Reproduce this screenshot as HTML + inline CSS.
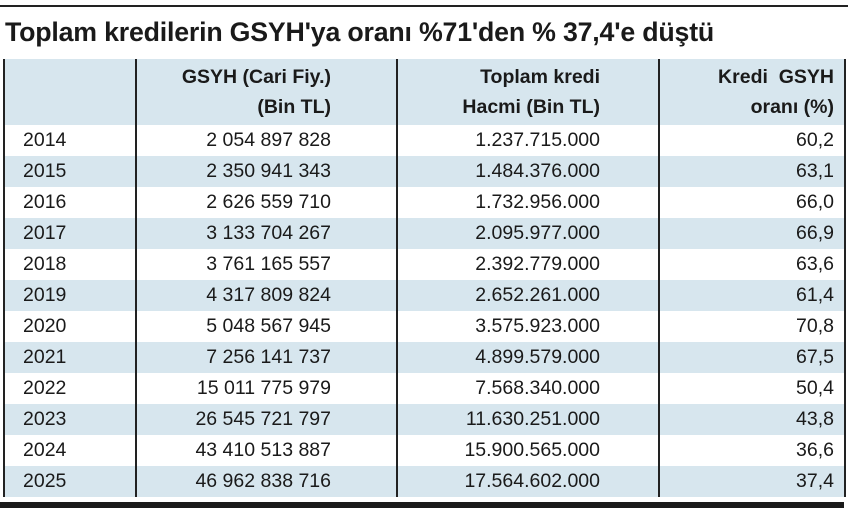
<!DOCTYPE html>
<html><head><meta charset="utf-8"><style>
body{margin:0;width:850px;height:511px;background:#fff;position:relative;overflow:hidden;font-family:"Liberation Sans",sans-serif;color:#1a1a1a}
.topline{position:absolute;left:0;top:5px;width:848px;height:2px;background:#222}
.title{position:absolute;left:5px;top:17px;font-weight:bold;font-size:27px;white-space:nowrap;transform-origin:0 0;transform:scaleX(0.99);letter-spacing:-0.2px}
table{position:absolute;left:3px;top:59px;border-collapse:collapse;width:841px;table-layout:fixed;font-size:19.5px}
td{height:31px;padding:0;border-left:2px solid #222;border-right:2px solid #222;line-height:31px;box-sizing:border-box;white-space:nowrap}
tr.h td{height:66px;background:#d7e6ee;font-weight:bold;line-height:30px;vertical-align:middle}
tr.b td{background:#d7e6ee}
td.c0{padding-left:18px}
td.c1{text-align:right;padding-right:65px}
td.c2{text-align:right;padding-right:58px}
td.c3{text-align:right;padding-right:10px}
.bot{position:absolute;left:0;top:502px;width:844px;height:6px;background:#1a1a1a}
</style></head><body>
<div class="topline"></div>
<div class="title">Toplam kredilerin GSYH'ya oranı %71'den % 37,4'e düştü</div>
<table>
<colgroup><col style="width:132px"><col style="width:261px"><col style="width:262px"><col style="width:186px"></colgroup>
<tr class="h"><td class="c0"></td><td class="c1">GSYH (Cari Fiy.)<br>(Bin TL)</td><td class="c2">Toplam kredi<br>Hacmi (Bin TL)</td><td class="c3">Kredi &nbsp;GSYH<br>oranı (%)</td></tr>
<tr><td class="c0">2014</td><td class="c1">2 054 897 828</td><td class="c2">1.237.715.000</td><td class="c3">60,2</td></tr>
<tr class="b"><td class="c0">2015</td><td class="c1">2 350 941 343</td><td class="c2">1.484.376.000</td><td class="c3">63,1</td></tr>
<tr><td class="c0">2016</td><td class="c1">2 626 559 710</td><td class="c2">1.732.956.000</td><td class="c3">66,0</td></tr>
<tr class="b"><td class="c0">2017</td><td class="c1">3 133 704 267</td><td class="c2">2.095.977.000</td><td class="c3">66,9</td></tr>
<tr><td class="c0">2018</td><td class="c1">3 761 165 557</td><td class="c2">2.392.779.000</td><td class="c3">63,6</td></tr>
<tr class="b"><td class="c0">2019</td><td class="c1">4 317 809 824</td><td class="c2">2.652.261.000</td><td class="c3">61,4</td></tr>
<tr><td class="c0">2020</td><td class="c1">5 048 567 945</td><td class="c2">3.575.923.000</td><td class="c3">70,8</td></tr>
<tr class="b"><td class="c0">2021</td><td class="c1">7 256 141 737</td><td class="c2">4.899.579.000</td><td class="c3">67,5</td></tr>
<tr><td class="c0">2022</td><td class="c1">15 011 775 979</td><td class="c2">7.568.340.000</td><td class="c3">50,4</td></tr>
<tr class="b"><td class="c0">2023</td><td class="c1">26 545 721 797</td><td class="c2">11.630.251.000</td><td class="c3">43,8</td></tr>
<tr><td class="c0">2024</td><td class="c1">43 410 513 887</td><td class="c2">15.900.565.000</td><td class="c3">36,6</td></tr>
<tr class="b"><td class="c0">2025</td><td class="c1">46 962 838 716</td><td class="c2">17.564.602.000</td><td class="c3">37,4</td></tr>
</table>
<div class="bot"></div>
</body></html>
